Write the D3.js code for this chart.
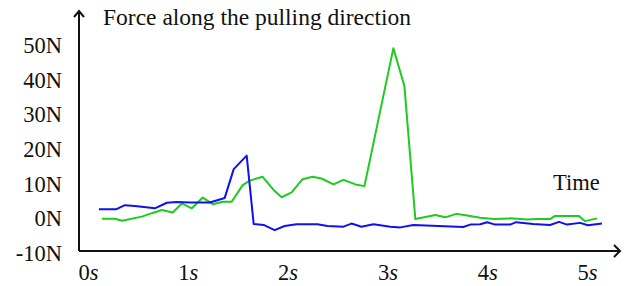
<!DOCTYPE html>
<html>
<head>
<meta charset="utf-8">
<script src="https://cdn.jsdelivr.net/npm/d3@7"></script>
<style>
  body { margin: 0; background: #fff; }
  text { font-family: "Liberation Serif", "Times New Roman", serif; fill: #111; }
</style>
</head>
<body>
<script>
//data start
var yTicks = [-10, 0, 10, 20, 30, 40, 50],
    xTicks = [0, 1, 2, 3, 4, 5]

// blue series: time (s) and force (N)
var blueT = [0.11, 0.28, 0.37, 0.47, 0.67, 0.79, 0.89, 1.02, 1.22, 1.37, 1.46, 1.59, 1.66, 1.76, 1.87, 1.97, 2.09, 2.30, 2.40, 2.56, 2.64, 2.74, 2.86, 3.03, 3.13, 3.26, 3.76, 3.83, 3.93, 4.00, 4.08, 4.23, 4.29, 4.46, 4.63, 4.72, 4.80, 4.93, 5.01, 5.15]
var blueV = [2.3, 2.3, 3.5, 3.3, 2.6, 4.2, 4.4, 4.3, 4.3, 5.6, 13.9, 17.8, -1.9, -2.2, -3.7, -2.5, -2.0, -2.0, -2.5, -2.7, -1.8, -2.7, -2.0, -2.7, -2.9, -2.2, -2.8, -2.1, -2.0, -1.4, -2.1, -2.1, -1.4, -1.9, -2.2, -1.3, -2.1, -1.6, -2.3, -1.8]

// green series
var greenT = [0.14, 0.27, 0.34, 0.54, 0.64, 0.74, 0.85, 0.94, 1.04, 1.15, 1.25, 1.35, 1.44, 1.55, 1.62, 1.75, 1.86, 1.94, 2.04, 2.15, 2.25, 2.34, 2.46, 2.56, 2.68, 2.77, 3.06, 3.17, 3.28, 3.48, 3.58, 3.69, 3.80, 3.93, 4.07, 4.23, 4.40, 4.50, 4.63, 4.68, 4.92, 4.98, 5.10]
var greenV = [-0.4, -0.4, -1.0, 0.2, 1.2, 2.1, 1.4, 4.0, 2.6, 5.7, 3.8, 4.5, 4.5, 9.3, 10.6, 11.7, 7.9, 5.8, 7.2, 11.0, 11.7, 11.2, 9.5, 10.8, 9.5, 9.0, 48.8, 37.9, -0.5, 0.7, 0.0, 1.0, 0.5, -0.1, -0.5, -0.3, -0.6, -0.5, -0.5, 0.4, 0.4, -1.1, -0.3]
//data end

var w = 624, h = 286

var svg = d3.select('body').append('svg')
    .attr('width', w)
    .attr('height', h)

var x = d3.scaleLinear().domain([0, 5]).range([88, 587])
var y = d3.scaleLinear().domain([-10, 50]).range([252, 44])

var axisX = 79, axisY = 251

//y tick labels
var gy = svg.append('g')
    .attr('transform', 'translate(' + axisX + ',0)')
    .call(d3.axisLeft(y).tickValues(yTicks).tickSize(0).tickPadding(17)
        .tickFormat(function(d) { return d + 'N' }))
gy.select('.domain').remove()
gy.selectAll('text')
    .attr('font-size', 22.5)
    .attr('font-family', '"Liberation Serif", serif')
    .attr('fill', '#111')
    .attr('dy', '0.38em')

//x tick labels, with italic unit
var gx = svg.append('g')
    .attr('transform', 'translate(0,' + axisY + ')')
    .call(d3.axisBottom(x).tickValues(xTicks).tickSize(0).tickPadding(13))
gx.select('.domain').remove()
gx.selectAll('text')
    .attr('font-size', 22.5)
    .attr('font-family', '"Liberation Serif", serif')
    .attr('fill', '#111')
    .each(function(d) {
        var t = d3.select(this).text('')
        t.append('tspan').text(d)
        t.append('tspan').attr('font-style', 'italic').text('s')
    })

//series lines
var line = d3.line()
    .x(function(d) { return x(d[0]) })
    .y(function(d) { return y(d[1]) })

svg.append('path')
    .datum(d3.zip(greenT, greenV))
    .attr('fill', 'none')
    .attr('stroke', '#1ecb1e')
    .attr('stroke-width', 2)
    .attr('stroke-linejoin', 'round')
    .attr('d', line)

svg.append('path')
    .datum(d3.zip(blueT, blueV))
    .attr('fill', 'none')
    .attr('stroke', '#1010f0')
    .attr('stroke-width', 2)
    .attr('stroke-linejoin', 'round')
    .attr('d', line)

//axes with arrows
var axes = svg.append('g')
    .attr('stroke', '#111')
    .attr('stroke-width', 2)
    .attr('fill', 'none')

axes.append('path')
    .attr('d', 'M' + axisX + ',' + axisY + 'V11')
axes.append('path')
    .attr('d', 'M' + (axisX - 5) + ',17L' + axisX + ',11L' + (axisX + 5) + ',17')
axes.append('path')
    .attr('d', 'M' + axisX + ',' + axisY + 'H620')
axes.append('path')
    .attr('d', 'M614,' + (axisY - 6) + 'L620,' + axisY + 'L614,' + (axisY + 6))

//axis titles
svg.append('text')
    .attr('x', 103)
    .attr('y', 25)
    .attr('font-size', 23.5)
    .text('Force along the pulling direction')

svg.append('text')
    .attr('x', 553)
    .attr('y', 190)
    .attr('font-size', 22.5)
    .text('Time')
</script>
</body>
</html>
